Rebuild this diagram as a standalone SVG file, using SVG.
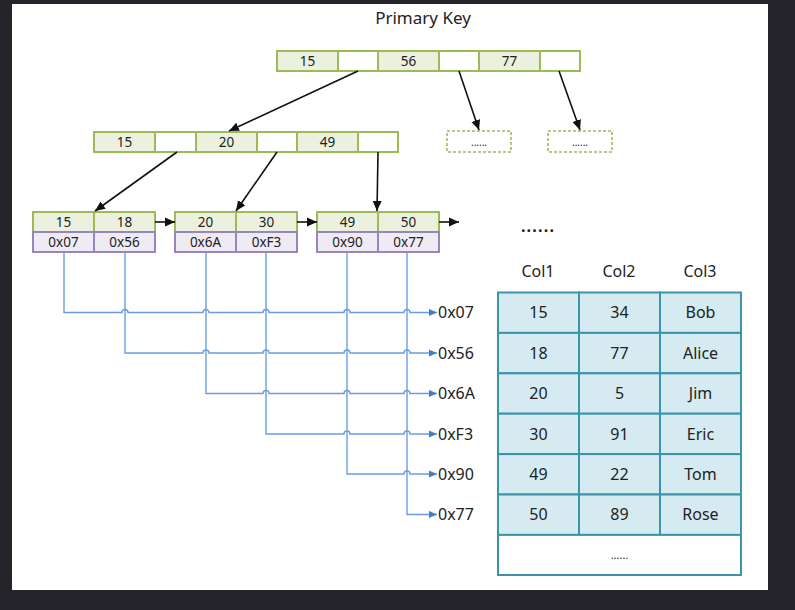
<svg xmlns="http://www.w3.org/2000/svg" width="795" height="610" viewBox="0 0 795 610">
<defs>
<marker id="ah" viewBox="0 0 10 10" refX="10" refY="5" markerWidth="10" markerHeight="10" markerUnits="userSpaceOnUse" orient="auto">
<path d="M0,0.5 L10,5 L0,9.5 Z" fill="#111"/>
</marker>
<marker id="bh" viewBox="0 0 10 10" refX="10" refY="5" markerWidth="8" markerHeight="8" markerUnits="userSpaceOnUse" orient="auto">
<path d="M0,0.5 L10,5 L0,9.5 Z" fill="#3f7fd0"/>
</marker>
</defs>
<style>
text{font-family:"Noto Sans","Open Sans","Liberation Sans",sans-serif;fill:#222;text-anchor:middle}
.k{fill:#ebf1de;stroke:#9bbb59;stroke-width:2}
.p{fill:#fff;stroke:#9bbb59;stroke-width:2}
.a{fill:#efebf4;stroke:#9a84bd;stroke-width:2}
.t{font-size:13.5px}
.dash{fill:#fff;stroke:#9bbb59;stroke-width:1.6;stroke-dasharray:3,2}
.arr{stroke:#111;stroke-width:1.6;fill:none;marker-end:url(#ah)}
.bar{stroke:#6b9de0;stroke-width:1.4;fill:none;marker-end:url(#bh)}
.lbl{font-size:16px;text-anchor:start}
.tc{fill:#d5ebf1;stroke:#3a94aa;stroke-width:2}
.tw{fill:#fff;stroke:#3a94aa;stroke-width:2}
.tt{font-size:16px}
</style>
<rect x="0" y="0" width="795" height="610" fill="#24242a"/>
<rect x="12" y="4" width="756" height="586" fill="#fff"/>
<text x="423" y="24" style="font-size:17px">Primary Key</text>

<g id="root">
<rect class="k" x="277" y="51" width="61" height="20"/>
<rect class="p" x="338" y="51" width="40" height="20"/>
<rect class="k" x="378" y="51" width="61" height="20"/>
<rect class="p" x="439" y="51" width="40" height="20"/>
<rect class="k" x="479" y="51" width="61" height="20"/>
<rect class="p" x="540" y="51" width="40" height="20"/>
<text class="t" x="307.5" y="65.5">15</text>
<text class="t" x="408.5" y="65.5">56</text>
<text class="t" x="509.5" y="65.5">77</text>
</g>

<g id="more1">
<rect class="dash" x="447" y="131" width="64" height="21"/>
<text x="479" y="146" style="font-size:10px">......</text>
</g>
<g id="more2">
<rect class="dash" x="548" y="131" width="64" height="21"/>
<text x="580" y="146" style="font-size:10px">......</text>
</g>

<g id="level2">
<rect class="k" x="94" y="132" width="61" height="20"/>
<rect class="p" x="155" y="132" width="41" height="20"/>
<rect class="k" x="196" y="132" width="61" height="20"/>
<rect class="p" x="257" y="132" width="40" height="20"/>
<rect class="k" x="297" y="132" width="61" height="20"/>
<rect class="p" x="358" y="132" width="40" height="20"/>
<text class="t" x="124.5" y="146.5">15</text>
<text class="t" x="226.5" y="146.5">20</text>
<text class="t" x="327.5" y="146.5">49</text>
</g>

<g id="leaf1">
<rect class="k" x="33" y="212" width="61" height="20"/>
<rect class="k" x="94" y="212" width="61" height="20"/>
<rect class="a" x="33" y="232" width="61" height="20"/>
<rect class="a" x="94" y="232" width="61" height="20"/>
<text class="t" x="63.5" y="226.5">15</text>
<text class="t" x="124.5" y="226.5">18</text>
<text class="t" x="63.5" y="246.5">0x07</text>
<text class="t" x="124.5" y="246.5">0x56</text>
</g>
<g id="leaf2">
<rect class="k" x="175" y="212" width="61" height="20"/>
<rect class="k" x="236" y="212" width="61" height="20"/>
<rect class="a" x="175" y="232" width="61" height="20"/>
<rect class="a" x="236" y="232" width="61" height="20"/>
<text class="t" x="205.5" y="226.5">20</text>
<text class="t" x="266.5" y="226.5">30</text>
<text class="t" x="205.5" y="246.5">0x6A</text>
<text class="t" x="266.5" y="246.5">0xF3</text>
</g>
<g id="leaf3">
<rect class="k" x="317" y="212" width="61" height="20"/>
<rect class="k" x="378" y="212" width="61" height="20"/>
<rect class="a" x="317" y="232" width="61" height="20"/>
<rect class="a" x="378" y="232" width="61" height="20"/>
<text class="t" x="347.5" y="226.5">49</text>
<text class="t" x="408.5" y="226.5">50</text>
<text class="t" x="347.5" y="246.5">0x90</text>
<text class="t" x="408.5" y="246.5">0x77</text>
</g>
<text x="538" y="232" style="font-size:16px;font-weight:bold;letter-spacing:1.2px">......</text>

<g id="connectors">
<line class="arr" x1="358" y1="71" x2="229" y2="131"/>
<line class="arr" x1="459" y1="71" x2="479" y2="130"/>
<line class="arr" x1="559" y1="71" x2="580" y2="130"/>
<line class="arr" x1="177" y1="152" x2="95" y2="211"/>
<line class="arr" x1="277" y1="152" x2="236" y2="211"/>
<line class="arr" x1="378" y1="152" x2="377" y2="211"/>
<line class="arr" x1="155" y1="222" x2="175" y2="222"/>
<line class="arr" x1="297" y1="222" x2="317" y2="222"/>
<line class="arr" x1="439" y1="222" x2="459" y2="222"/>

<path class="bar" d="M64,253 V312.5 H122 a3,3 0 0 1 6,0 H203 a3,3 0 0 1 6,0 H263 a3,3 0 0 1 6,0 H344 a3,3 0 0 1 6,0 H404 a3,3 0 0 1 6,0 H437"/>
<path class="bar" d="M125,253 V353 H203 a3,3 0 0 1 6,0 H263 a3,3 0 0 1 6,0 H344 a3,3 0 0 1 6,0 H404 a3,3 0 0 1 6,0 H437"/>
<path class="bar" d="M206,253 V393.5 H263 a3,3 0 0 1 6,0 H344 a3,3 0 0 1 6,0 H404 a3,3 0 0 1 6,0 H437"/>
<path class="bar" d="M266,253 V434 H344 a3,3 0 0 1 6,0 H404 a3,3 0 0 1 6,0 H437"/>
<path class="bar" d="M347,253 V474 H404 a3,3 0 0 1 6,0 H437"/>
<path class="bar" d="M407,253 V514.5 H437"/>
</g>

<g id="pointers">
<text class="lbl" x="438" y="318">0x07</text>
<text class="lbl" x="438" y="358.5">0x56</text>
<text class="lbl" x="438" y="399">0x6A</text>
<text class="lbl" x="438" y="439.5">0xF3</text>
<text class="lbl" x="438" y="479.5">0x90</text>
<text class="lbl" x="438" y="520">0x77</text>
</g>

<g id="table">
<text class="tt" x="538" y="277">Col1</text>
<text class="tt" x="619" y="277">Col2</text>
<text class="tt" x="700" y="277">Col3</text>
<rect class="tc" x="498" y="292.5" width="81" height="40.4"/>
<rect class="tc" x="579" y="292.5" width="81" height="40.4"/>
<rect class="tc" x="660" y="292.5" width="81" height="40.4"/>
<rect class="tc" x="498" y="332.9" width="81" height="40.4"/>
<rect class="tc" x="579" y="332.9" width="81" height="40.4"/>
<rect class="tc" x="660" y="332.9" width="81" height="40.4"/>
<rect class="tc" x="498" y="373.3" width="81" height="40.4"/>
<rect class="tc" x="579" y="373.3" width="81" height="40.4"/>
<rect class="tc" x="660" y="373.3" width="81" height="40.4"/>
<rect class="tc" x="498" y="413.7" width="81" height="40.4"/>
<rect class="tc" x="579" y="413.7" width="81" height="40.4"/>
<rect class="tc" x="660" y="413.7" width="81" height="40.4"/>
<rect class="tc" x="498" y="454.1" width="81" height="40.4"/>
<rect class="tc" x="579" y="454.1" width="81" height="40.4"/>
<rect class="tc" x="660" y="454.1" width="81" height="40.4"/>
<rect class="tc" x="498" y="494.5" width="81" height="40.4"/>
<rect class="tc" x="579" y="494.5" width="81" height="40.4"/>
<rect class="tc" x="660" y="494.5" width="81" height="40.4"/>
<rect class="tw" x="498" y="534.9" width="243" height="40.1"/>
<text class="tt" x="538.5" y="318">15</text><text class="tt" x="619.5" y="318">34</text><text class="tt" x="700.5" y="318">Bob</text>
<text class="tt" x="538.5" y="358.5">18</text><text class="tt" x="619.5" y="358.5">77</text><text class="tt" x="700.5" y="358.5">Alice</text>
<text class="tt" x="538.5" y="399">20</text><text class="tt" x="619.5" y="399">5</text><text class="tt" x="700.5" y="399">Jim</text>
<text class="tt" x="538.5" y="439.5">30</text><text class="tt" x="619.5" y="439.5">91</text><text class="tt" x="700.5" y="439.5">Eric</text>
<text class="tt" x="538.5" y="480">49</text><text class="tt" x="619.5" y="480">22</text><text class="tt" x="700.5" y="480">Tom</text>
<text class="tt" x="538.5" y="520">50</text><text class="tt" x="619.5" y="520">89</text><text class="tt" x="700.5" y="520">Rose</text>
<text x="619.5" y="559" style="font-size:11px">......</text>
</g>
</svg>
